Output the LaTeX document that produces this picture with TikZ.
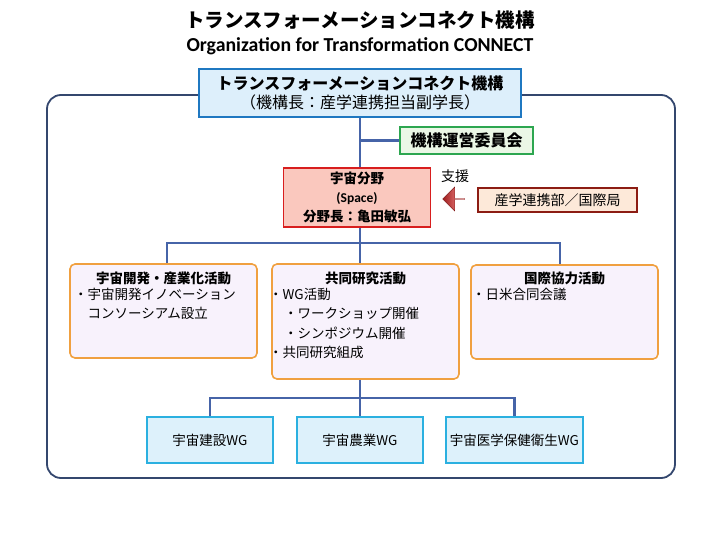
\documentclass[tikz,border=0pt]{standalone}
\usepackage{fontspec}
\setmainfont{Noto Sans CJK JP}
\newfontfamily\latinfont{Carlito}
\usetikzlibrary{shapes.arrows, positioning}

\definecolor{linkblue}{RGB}{70,100,168}
\definecolor{framenavy}{RGB}{52,71,110}
\definecolor{headblue}{RGB}{31,120,193}
\definecolor{headfill}{RGB}{221,239,251}
\definecolor{commgreen}{RGB}{45,166,80}
\definecolor{commfill}{RGB}{235,247,230}
\definecolor{spacered}{RGB}{216,30,30}
\definecolor{spacefill}{RGB}{250,200,190}
\definecolor{supportred}{RGB}{140,28,19}
\definecolor{supportfill}{RGB}{253,233,217}
\definecolor{actorange}{RGB}{240,160,64}
\definecolor{actfill}{RGB}{248,242,252}
\definecolor{wgcyan}{RGB}{43,176,224}
\definecolor{wgfill}{RGB}{221,241,251}
\definecolor{arrowred}{RGB}{160,30,30}

\begin{document}
\begin{tikzpicture}[x=1pt, y=-1pt,
  link/.style={draw=linkblue, line width=2.6pt},
  body/.style={font=\fontsize{13.5}{19.3}\selectfont},
  headbox/.style={draw=headblue, fill=headfill, line width=1.6pt, minimum width=322, minimum height=48, align=center, inner sep=0pt},
  commbox/.style={draw=commgreen, fill=commfill, line width=1.6pt, minimum width=133, minimum height=27, font=\fontsize{16}{18}\selectfont\bfseries},
  spacebox/.style={draw=spacered, fill=spacefill, line width=1.6pt, minimum width=147, minimum height=59, align=center, inner sep=0pt, font=\fontsize{13.5}{19}\selectfont\bfseries},
  supportbox/.style={draw=supportred, fill=supportfill, line width=1.6pt, minimum width=159, minimum height=24, font=\fontsize{14}{16}\selectfont},
  actbox/.style={draw=actorange, fill=actfill, line width=1.6pt, rounded corners=5pt, minimum width=187},
  acttitle/.style={font=\fontsize{13.5}{16}\selectfont\bfseries, inner sep=0pt},
  actitems/.style={body, align=left, inner sep=0pt, anchor=north west},
  wgbox/.style={draw=wgcyan, fill=wgfill, line width=1.6pt, minimum height=46, body}]

  \useasboundingbox (0,0) rectangle (720,540);

  % title
  \node (title) [font=\fontsize{19.5}{22}\selectfont\bfseries] at (360,20) {トランスフォーメーションコネクト機構};
  \node (subtitle) [font=\latinfont\fontsize{19.8}{22}\selectfont\bfseries] at (360,46) {Organization for Transformation CONNECT};

  % outer frame
  \draw[framenavy, line width=1.8pt, rounded corners=14pt] (47,95) rectangle (675,478);

  % upper part
  \node (top) [headbox] at (360,93) {{\fontsize{16}{18}\selectfont\bfseries トランスフォーメーションコネクト機構}\\[3pt]{\fontsize{16}{18}\selectfont （機構長：産学連携担当副学長）}};
  \node (comm) [commbox] at (466.5,140.5) {機構運営委員会};
  \node (space) [spacebox] at (357,197.5) {宇宙分野\\{\latinfont (Space)}\\分野長：亀田敏弘};
  \node (support) [supportbox] at (557.5,200) {産学連携部／国際局};
  \node (help) [single arrow, shape border rotate=180, minimum height=22, minimum width=24, single arrow head extend=5, inner sep=0pt, left color=arrowred, right color=red!40, draw=arrowred!80!black, line width=0.4pt] at (454,199) {};
  \node (helplabel) [font=\fontsize{14}{16}\selectfont] at (455,176) {支援};

  % activities
  \node (act1) [actbox, minimum height=94] at (163.5,311) {};
  \node (act2) [actbox, minimum height=115] at (365.5,321.5) {};
  \node (act3) [actbox, minimum height=94] at (564.5,312) {};
  \node (act1t) [acttitle] at (act1.north |- 0,278) {宇宙開発・産業化活動};
  \node (act2t) [acttitle] at (act2.north |- 0,278) {共同研究活動};
  \node (act3t) [acttitle] at (act3.north |- 0,278) {国際協力活動};
  \node (act1i) [actitems] at (74,288) {・宇宙開発イノベーション\\\hspace{1em}コンソーシアム設立};
  \node (act2i) [actitems] at (269,288) {・WG活動\\\hspace{1.1em}・ワークショップ開催\\\hspace{1.1em}・シンポジウム開催\\・共同研究組成};
  \node (act3i) [actitems] at (472,288) {・日米合同会議};

  % working groups
  \node (wg1) [wgbox, minimum width=126] at (210,440) {宇宙建設WG};
  \node (wg2) [wgbox, minimum width=126] at (360,440) {宇宙農業WG};
  \node (wg3) [wgbox, minimum width=137] at (514.5,440) {宇宙医学保健衛生WG};

  % connectors
  \coordinate (busL) at (167,243);
  \coordinate (busR) at (560,243);
  \coordinate (busB) at (360,398);
  \draw[link] (top.south) -- (top.south |- space.north);
  \draw[link] (top.south |- comm.west) -- (comm.west);
  \draw[link] (top.south |- space.south) -- (top.south |- act2.north);
  \draw[link] (busL |- act1.north) -- (busL) -- (busR) -- (busR |- act3.north);
  \draw[link] (top.south |- act2.south) -- (wg2.north);
  \draw[link] (wg1.north) -- (wg1.north |- busB) -- (wg3.north |- busB) -- (wg3.north);
\end{tikzpicture}
\end{document}
